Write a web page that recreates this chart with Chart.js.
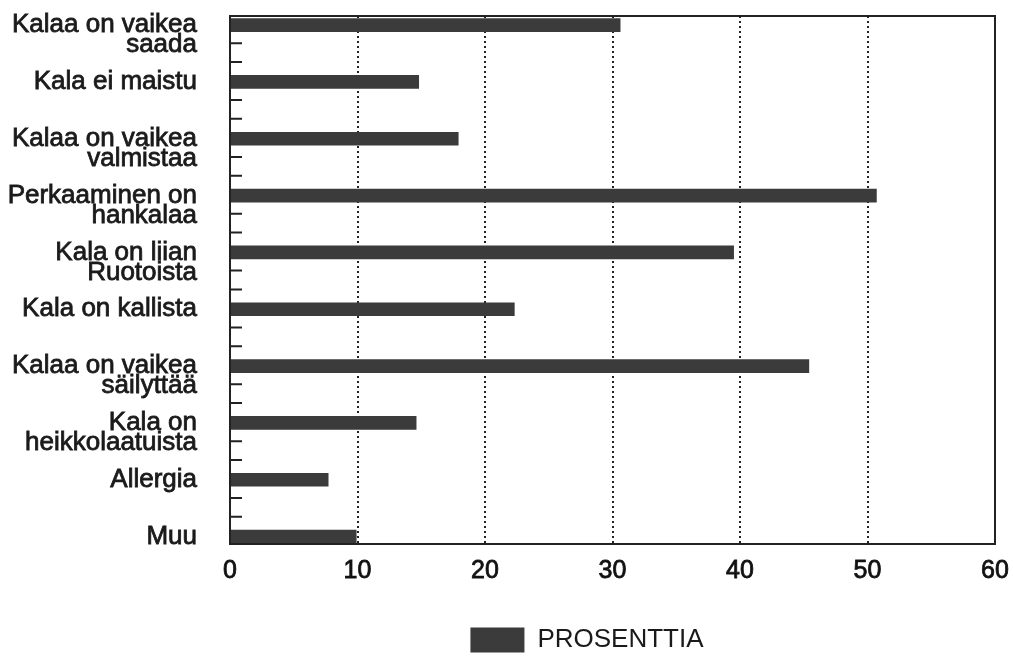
<!DOCTYPE html>
<html>
<head>
<meta charset="utf-8">
<script src="https://cdn.jsdelivr.net/npm/chart.js@4.4.0/dist/chart.umd.min.js"></script>
<style>
html,body{margin:0;padding:0;background:#fff}
#wrap{width:1013px;height:658px}
</style>
</head>
<body>
<div id="wrap"><canvas id="chart"></canvas></div>
<script>
// data
const categories=[
  ['Kalaa on vaikea','saada'],
  ['Kala ei maistu'],
  ['Kalaa on vaikea','valmistaa'],
  ['Perkaaminen on','hankalaa'],
  ['Kala on liian','Ruotoista'],
  ['Kala on kallista'],
  ['Kalaa on vaikea','säilyttää'],
  ['Kala on','heikkolaatuista'],
  ['Allergia'],
  ['Muu']
];
const values=[30.6,14.8,17.9,50.7,39.5,22.3,45.4,14.6,7.7,9.9];
const xTicks=[0,10,20,30,40,50,60];
const seriesLabel='PROSENTTIA';

Chart.defaults.font.family='"Liberation Sans", Arial, sans-serif';
Chart.defaults.color='#1a1a1a';

// frame + small inward ticks on the category axis
const frame={
  id:'frame',
  afterDatasetsDraw(chart){
    const {ctx,chartArea:a,scales:{y}}=chart;
    ctx.save();
    ctx.strokeStyle='#222';
    ctx.lineWidth=2;
    ctx.beginPath();
    for(let i=0;i<categories.length-1;i++){
      [0.32,0.65].forEach(f=>{
        const py=y.getPixelForValue(i+f);
        ctx.moveTo(a.left,py);ctx.lineTo(a.left+12,py);
      });
    }
    ctx.stroke();
    ctx.strokeRect(a.left,a.top,a.right-a.left,a.bottom-a.top);
    ctx.restore();
  }
};

// legend sits under the plot, a bit left of its centre
const legendPos={
  id:'legendPos',
  afterLayout(chart){
    const l=chart.legend;
    const h=l.bottom-l.top;
    l.left-=51;
    l.top=617;l.bottom=617+h;
  }
};

new Chart(document.getElementById('chart'),{
  type:'bar',
  data:{
    datasets:[{
      label:seriesLabel,
      data:values.map((v,i)=>({x:v,y:i})),
      backgroundColor:'#3b3b3b',
      borderWidth:0,
      barThickness:13
    }]
  },
  options:{
    indexAxis:'y',
    responsive:true,maintainAspectRatio:false,animation:false,
    layout:{padding:{left:0,right:18,top:16,bottom:14}},
    plugins:{
      legend:{
        position:'bottom',fullSize:false,
        labels:{boxWidth:54,boxHeight:25,padding:10,color:'#1a1a1a',font:{size:26}}
      },
      tooltip:{enabled:false}
    },
    scales:{
      x:{
        type:'linear',min:0,max:60,
        afterBuildTicks:s=>{s.ticks=xTicks.map(v=>({value:v}));},
        afterFit:s=>{s.paddingLeft=0;s.paddingRight=0;},
        grid:{
          drawTicks:false,lineWidth:2,
          color:c=>(c.tick&&(c.tick.value===0||c.tick.value===60))?'rgba(0,0,0,0)':'#222'
        },
        border:{display:false,dash:[2,3]},
        ticks:{padding:12,font:{size:25},color:'#111',textStrokeColor:'#111',textStrokeWidth:0.8}
      },
      y:{
        type:'linear',min:-0.16,max:9.13,reverse:true,offset:false,
        afterBuildTicks:s=>{s.ticks=categories.map((_,i)=>({value:i}));},
        afterFit:s=>{s.width=230;s.paddingTop=0;s.paddingBottom=0;},
        grid:{display:false},
        border:{display:false},
        ticks:{
          autoSkip:false,padding:25,
          font:{size:26,lineHeight:0.77},color:'#1a1a1a',
          textStrokeColor:'#1a1a1a',textStrokeWidth:0.8,
          callback:v=>{const lab=categories[v];return lab.length>1?['',...lab]:lab;}
        }
      }
    }
  },
  plugins:[frame,legendPos]
});
</script>
</body>
</html>
